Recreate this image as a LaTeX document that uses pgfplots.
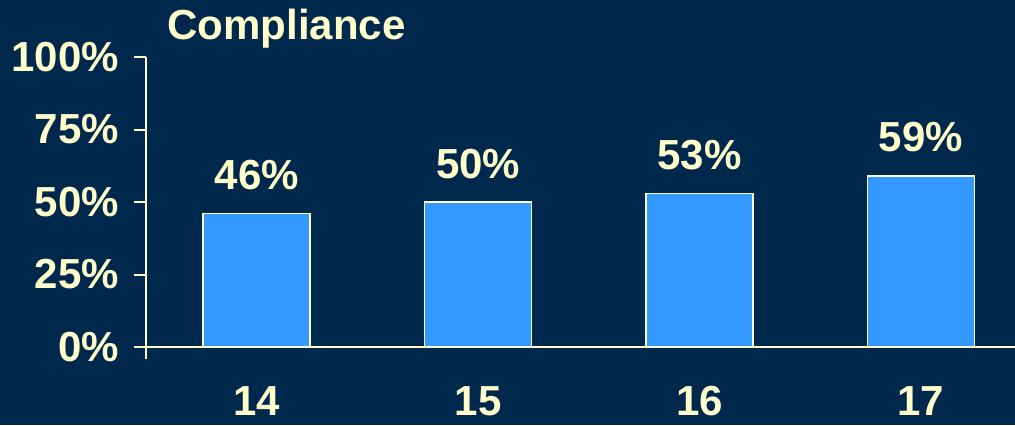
\documentclass[border=0pt]{standalone}
\usepackage{pgfplots}
\pgfplotsset{compat=1.18}
\usepackage{fontspec}
\setmainfont{Liberation Sans}
\definecolor{bg}{RGB}{0,40,77}
\definecolor{barblue}{RGB}{51,153,255}
\definecolor{cream}{RGB}{255,255,204}
\begin{document}
\begin{tikzpicture}
\fill[bg] (-73pt,-39pt) rectangle (434.5pt,173.5pt);
\begin{axis}[
    at={(0,0)}, anchor=south west,
    scale only axis,
    width=434.5pt, height=145pt,
    ybar,
    bar width=53.5pt,
    xmin=-0.5, xmax=3.425,
    ymin=0, ymax=100,
    axis lines=left,
    axis line style={-, draw=cream, line width=1pt},
    tick style={draw=cream, line width=1pt},
    tick align=outside,
    major tick length=6pt,
    xtick={0,1,2,3},
    xticklabels={14,15,16,17},
    xtick style={draw=none},
    extra x ticks={-0.5},
    extra x tick labels={},
    extra x tick style={xtick style={draw=cream, line width=1pt}},
    ytick={0,25,50,75,100},
    yticklabels={0\%,25\%,50\%,75\%,100\%},
    x tick label style={anchor=base, inner sep=0pt, yshift=-28pt},
    y tick label style={anchor=east, xshift=-4pt},
    ticklabel style={font=\bfseries\fontsize{21}{25}\selectfont, text=cream},
    /pgf/number format/assume math mode=true,
    clip=false,
    nodes near coords={\pgfmathprintnumber{\pgfplotspointmeta}\%},
    every node near coord/.append style={font=\bfseries\fontsize{21}{25}\selectfont, text=cream, anchor=base, yshift=12pt},
]
\addplot[fill=barblue, draw=cream, line width=0.8pt] coordinates {(0,46) (1,50) (2,53) (3,59)};
\end{axis}
\node[anchor=base west, inner sep=0pt, text=cream, font=\bfseries\fontsize{21}{25}\selectfont] at (10.5pt,154pt) {Compliance};
\pgfresetboundingbox
\path (-73pt,-39pt) rectangle (434.5pt,173.5pt);
\end{tikzpicture}
\end{document}
